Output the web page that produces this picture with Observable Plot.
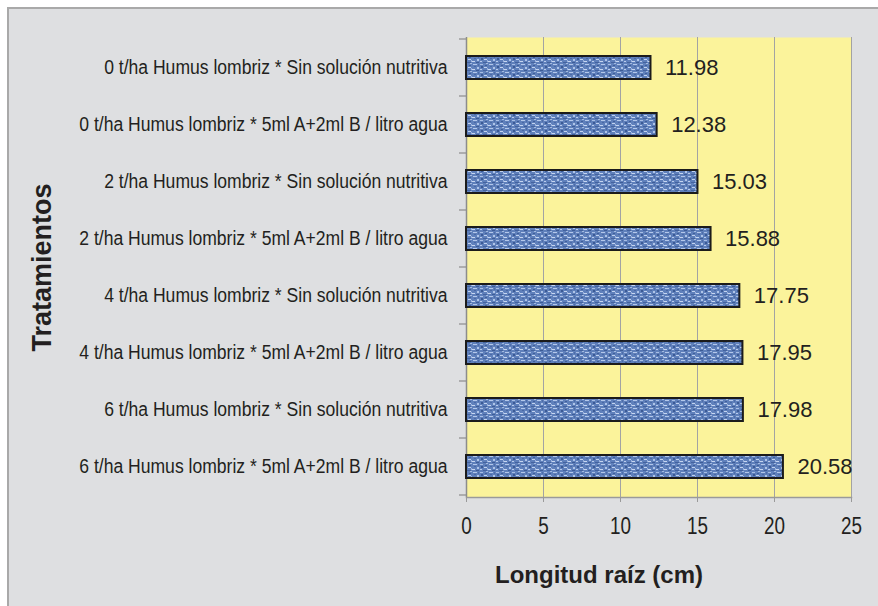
<!DOCTYPE html>
<html>
<head>
<meta charset="utf-8">
<script src="https://cdn.jsdelivr.net/npm/d3@7"></script>
<script src="https://cdn.jsdelivr.net/npm/@observablehq/plot@0.6"></script>
<style>
  html, body { margin: 0; padding: 0; background: #ffffff; }
  #wrap { position: relative; width: 878px; height: 606px; overflow: hidden; background: #fff; }
  #panel { position: absolute; left: 7px; top: 7px; width: 871px; height: 599px; background: #dedfe1;
           border-left: 2px solid #a9a9a9; border-top: 2px solid #a9a9a9; box-sizing: border-box; }
  #chart { position: absolute; left: 0; top: 0; }
</style>
</head>
<body>
<div id="wrap"><div id="panel"></div><div id="chart"></div></div>
<script>
const categories = [
  "0 t/ha Humus lombriz * Sin solución nutritiva",
  "0 t/ha Humus lombriz * 5ml A+2ml B / litro agua",
  "2 t/ha Humus lombriz * Sin solución nutritiva",
  "2 t/ha Humus lombriz * 5ml A+2ml B / litro agua",
  "4 t/ha Humus lombriz * Sin solución nutritiva",
  "4 t/ha Humus lombriz * 5ml A+2ml B / litro agua",
  "6 t/ha Humus lombriz * Sin solución nutritiva",
  "6 t/ha Humus lombriz * 5ml A+2ml B / litro agua"
];
const values = [11.98, 12.38, 15.03, 15.88, 17.75, 17.95, 17.98, 20.58];
const xTicks = [0, 5, 10, 15, 20, 25];
const xTitle = "Longitud raíz (cm)";
const yTitle = "Tratamientos";

const data = categories.map((c, i) => ({cat: c, value: values[i]}));

const sans = "'Liberation Sans', Arial, sans-serif";

const plot = Plot.plot({
  width: 878,
  height: 606,
  marginLeft: 466,
  marginRight: 27,
  marginTop: 37,
  marginBottom: 109,
  style: {background: "transparent", color: "#231f20", overflow: "visible", fontFamily: sans},
  x: {domain: [0, 25], ticks: xTicks},
  y: {domain: categories, paddingInner: 0.6, paddingOuter: 0.3},
  marks: [
    Plot.frame({fill: "#fbf39b", stroke: null}),
    Plot.ruleX(xTicks.slice(1), {stroke: "#a3a3a3", strokeWidth: 1}),
    Plot.ruleX([0], {stroke: "#8c8c8c", strokeWidth: 1.5}),
    Plot.frame({anchor: "bottom", stroke: "#9a9a9a", strokeWidth: 1.5}),
    Plot.barX(data, {x: "value", y: "cat", fill: "url(#tex)", stroke: "#1b1b1b", strokeWidth: 2}),
    Plot.text(data, {x: "value", y: "cat", text: d => d.value.toFixed(2), textAnchor: "start", dx: 14,
      fontSize: 22, fontFamily: sans, fill: "#231f20", ariaLabel: "value labels"}),
    Plot.axisX({ticks: xTicks, tickSize: 5, tickPadding: 15, fontSize: 23, fontFamily: sans, label: null, stroke: "#9a9a9a"}),
    Plot.axisY({tickSize: 0, tickPadding: 19, fontSize: 19.5, fontFamily: sans, label: null}),
    Plot.text([xTitle], {frameAnchor: "bottom", dy: 78, dx: -60, lineAnchor: "middle", textAnchor: "middle",
      fontSize: 24, fontWeight: "bold", fontFamily: sans, fill: "#231f20"}),
    Plot.text([yTitle], {frameAnchor: "left", dx: -424, rotate: -90, lineAnchor: "middle", textAnchor: "middle",
      fontSize: 27, fontWeight: "bold", fontFamily: sans, fill: "#231f20"})
  ]
});

// texture pattern for bars
const svg = d3.select(plot);
const defs = svg.insert("defs", ":first-child");
const pat = defs.append("pattern").attr("id", "tex").attr("patternUnits", "userSpaceOnUse")
  .attr("width", 16).attr("height", 8);
pat.append("rect").attr("width", 16).attr("height", 8).attr("fill", "#5f80bb");
const speck = [[0,0,3,1,"#a8bee4"],[5,1,2,1,"#3f5e99"],[9,0,4,1,"#b4c8ea"],[1,2,2,2,"#3b5a95"],[4,3,3,1,"#c2d3ef"],
  [10,2,2,1,"#4a69a5"],[13,3,2,2,"#aec4e8"],[0,5,2,1,"#b9cbec"],[3,6,4,1,"#44639f"],[8,5,3,1,"#c6d6f0"],
  [12,6,3,1,"#3d5c97"],[7,4,1,2,"#9db4df"],[14,0,1,2,"#4d6ca8"],[6,7,2,1,"#a3badf"]];
speck.forEach(([x,y,w,h,c]) => pat.append("rect").attr("x",x).attr("y",y).attr("width",w).attr("height",h).attr("fill",c));

// y ticks at category boundaries
const ys = plot.scale("y");
const x0 = plot.scale("x").apply(0);
const bounds = categories.map(c => ys.apply(c) + ys.bandwidth / 2 - ys.step / 2);
bounds.push(ys.apply(categories[categories.length - 1]) + ys.bandwidth / 2 + ys.step / 2);
svg.append("g").selectAll("line").data(bounds).join("line")
  .attr("x1", x0 - 7).attr("x2", x0).attr("y1", d => d).attr("y2", d => d)
  .attr("stroke", "#8c8c8c").attr("stroke-width", 1.2);

document.getElementById("chart").appendChild(plot);

// condense texts to imitate a narrow face
function condense(sel, k) {
  svg.selectAll(sel).each(function() {
    const w = this.getComputedTextLength();
    this.setAttribute("textLength", w * k);
    this.setAttribute("lengthAdjust", "spacingAndGlyphs");
  });
}
condense('g[aria-label="y-axis tick label"] text', 0.90);
condense('g[aria-label="x-axis tick label"] text, g[aria-label="value labels"] text', 0.82);
</script>
</body>
</html>
